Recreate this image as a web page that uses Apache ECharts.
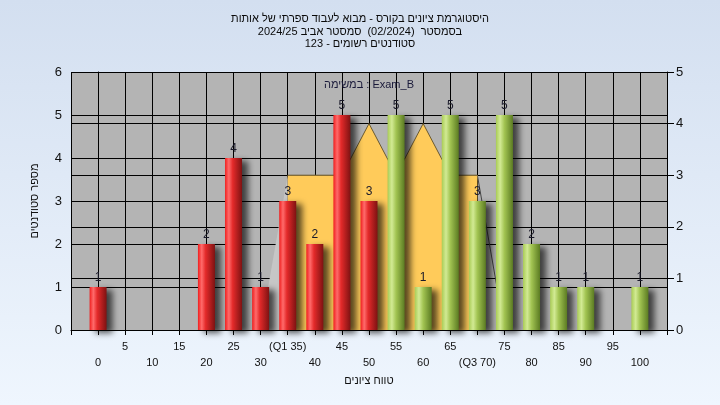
<!DOCTYPE html>
<html>
<head>
<meta charset="utf-8">
<script src="https://cdn.jsdelivr.net/npm/echarts@6/dist/echarts.min.js"></script>
<style>
  html, body { margin: 0; padding: 0; }
  body { width: 720px; height: 405px; background: linear-gradient(#D3DFF0, #EFF6FE); }
  #chart { width: 720px; height: 405px; }
</style>
</head>
<body>
<div id="chart"></div>
<script>
// ---- data ----
const categories = [0, 5, 10, 15, 20, 25, 30, 35, 40, 45, 50, 55, 60, 65, 70, 75, 80, 85, 90, 95, 100];
const tickLabels = ['0', '5', '10', '15', '20', '25', '30', '(Q1 35)', '40', '45', '50', '55', '60', '65', '(Q3 70)', '75', '80', '85', '90', '95', '100'];
const counts = [1, 0, 0, 0, 2, 4, 1, 3, 2, 5, 3, 5, 1, 5, 3, 5, 2, 1, 1, 0, 1];
const areaX = [35, 45, 50, 55, 60, 65, 70];
const areaY = [3, 3, 4, 3, 4, 3, 3];
const leftSlopeX = [30, 35];
const leftSlopeY = [0, 3];
const rightSlopeX = [70, 75];
const rightSlopeY = [3, 0];
const passLimit = 50;

const titleLines = [
  'היסטוגרמת ציונים בקורס - מבוא לעבוד ספרתי של אותות',
  'בסמסטר  (02/2024)  סמסטר אביב 2024/25',
  'סטודנטים רשומים - 123'
];
const taskLabel = 'במשימה : Exam_B';
const xName = 'טווח ציונים';
const yName = 'מספר סטודנטים';

// ---- chart ----
const FONT = 'Liberation Sans, Arial, DejaVu Sans, sans-serif';
const chart = echarts.init(document.getElementById('chart'), null, { renderer: 'canvas' });

const redGrad = new echarts.graphic.LinearGradient(0, 0, 1, 0, [
  { offset: 0, color: '#F01E1E' },
  { offset: 0.22, color: '#FF6B6B' },
  { offset: 0.45, color: '#E42A2A' },
  { offset: 1, color: '#7E1212' }
]);
const greenGrad = new echarts.graphic.LinearGradient(0, 0, 1, 0, [
  { offset: 0, color: '#A9CC55' },
  { offset: 0.25, color: '#D2EA94' },
  { offset: 0.5, color: '#A2C452' },
  { offset: 1, color: '#5B7B22' }
]);

const barData = categories.map((c, i) => [c, counts[i]]);
const pairs = (xs, ys) => xs.map((x, i) => [x, ys[i]]);

const option = {
  animation: false,
  backgroundColor: 'transparent',
  textStyle: { fontFamily: FONT },
  title: {
    text: titleLines.join('\n'),
    left: 'center',
    top: 8,
    textStyle: { fontSize: 11, fontWeight: 'normal', color: '#0a0a0a', lineHeight: 12.5, fontFamily: FONT }
  },
  graphic: [{
    type: 'text',
    x: 369, y: 85,
    style: { text: taskLabel, fill: '#1a1a3a', font: '11px ' + FONT, textAlign: 'center', textVerticalAlign: 'middle' },
    z: 100
  }],
  grid: { left: 71, right: 53, top: 72, bottom: 75, show: true, backgroundColor: '#B4B4B4', borderWidth: 0 },
  xAxis: {
    type: 'value',
    min: -5, max: 105, interval: 5,
    name: xName, nameLocation: 'middle', nameGap: 43,
    nameTextStyle: { color: '#111', fontSize: 11, fontFamily: FONT },
    axisLine: { show: true, lineStyle: { color: '#000', width: 1 } },
    axisTick: { show: true, length: 5, lineStyle: { color: '#000' } },
    splitLine: { show: true, lineStyle: { color: '#000', width: 1 } },
    axisLabel: {
      color: '#111', fontSize: 11, margin: 9, lineHeight: 16, fontFamily: FONT,
      showMinLabel: true, showMaxLabel: true,
      formatter: function (v) {
        const i = categories.indexOf(v);
        if (i < 0) return '';
        return (i % 2 === 0) ? '\n' + tickLabels[i] : tickLabels[i];
      }
    }
  },
  yAxis: [{
    type: 'value', min: 0, max: 6, interval: 1, position: 'left',
    name: yName, nameLocation: 'middle', nameGap: 31, nameRotate: 90,
    nameTextStyle: { color: '#111', fontSize: 11, fontFamily: FONT },
    axisLine: { show: true, lineStyle: { color: '#000' } },
    axisTick: { show: true, length: 6, lineStyle: { color: '#000' } },
    splitLine: { show: true, lineStyle: { color: '#000', width: 1 } },
    axisLabel: { color: '#111', fontSize: 13, margin: 9, fontFamily: FONT }
  }, {
    type: 'value', min: 0, max: 5, interval: 1, position: 'right',
    axisLine: { show: true, lineStyle: { color: '#000' } },
    axisTick: { show: true, length: 7, lineStyle: { color: '#000' } },
    splitLine: { show: true, lineStyle: { color: '#000', width: 1 } },
    axisLabel: { color: '#111', fontSize: 13, margin: 9, fontFamily: FONT }
  }],
  series: [{
    type: 'line', yAxisIndex: 1, data: pairs(leftSlopeX, leftSlopeY),
    symbol: 'none', lineStyle: { width: 0 }, areaStyle: { color: '#C6C6C6', opacity: 1 }, z: 2, silent: true
  }, {
    type: 'line', yAxisIndex: 1, data: pairs(rightSlopeX, rightSlopeY),
    symbol: 'none', lineStyle: { width: 1, color: '#444' }, z: 2, silent: true
  }, {
    type: 'line', yAxisIndex: 1, data: pairs(areaX, areaY),
    symbol: 'none', lineStyle: { width: 1, color: '#6b5a30' }, areaStyle: { color: '#FFCB5A', opacity: 1 }, z: 3, silent: true
  }, {
    type: 'bar', yAxisIndex: 0, data: barData, barWidth: 17, z: 5,
    itemStyle: {
      color: function (p) { return p.value[0] <= passLimit ? redGrad : greenGrad; },
      shadowColor: 'rgba(0,0,0,0.65)', shadowBlur: 6, shadowOffsetX: 6, shadowOffsetY: 3
    },
    label: {
      show: true, position: 'top', distance: 3, color: '#1a1a2a', fontSize: 12, fontFamily: FONT,
      formatter: function (p) { return p.value[1] > 0 ? String(p.value[1]) : ''; }
    }
  }]
};
chart.setOption(option);
</script>
</body>
</html>
